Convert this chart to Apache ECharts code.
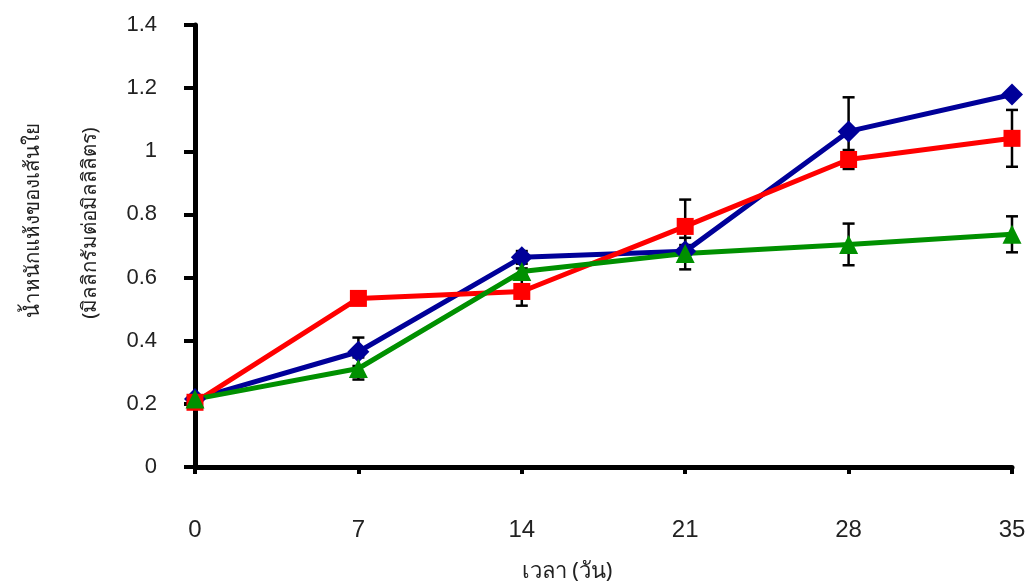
<!DOCTYPE html>
<html>
<head>
<meta charset="utf-8">
<script src="https://cdn.jsdelivr.net/npm/echarts@6/dist/echarts.min.js"></script>
<style>
html,body{margin:0;padding:0;background:#fff;}
#c{width:1032px;height:588px;}
</style>
</head>
<body>
<div id="c"></div>
<script>
var days = [0, 7, 14, 21, 28, 35];
var blueVals  = [0.215, 0.365, 0.664, 0.683, 1.063, 1.18];
var blueErr   = [0.01, 0.045, 0.02, 0.02, 0.108, 0.01];
var redVals   = [0.205, 0.534, 0.556, 0.762, 0.974, 1.041];
var redErr    = [0.01, 0.01, 0.045, 0.085, 0.03, 0.09];
var greenVals = [0.215, 0.312, 0.619, 0.676, 0.705, 0.737];
var greenErr  = [0.01, 0.035, 0.01, 0.05, 0.066, 0.057];
var yTitle1 = 'น้ำหนักแห้งของเส้นใย';
var yTitle2 = '(มิลลิกรัมต่อมิลลิลิตร)';
var xTitle = 'เวลา (วัน)';

var FONT = "'Liberation Sans', Arial, sans-serif";
var THAI = "'Noto Sans', 'DejaVu Sans', 'Liberation Sans', sans-serif";

function pts(v){ return days.map(function(d,i){ return [d, v[i]]; }); }
function errData(v,e){ return days.map(function(d,i){ return [d, v[i]-e[i], v[i]+e[i]]; }); }

function errSeries(v,e){
  return {
    type:'custom', z:1, silent:true,
    data: errData(v,e),
    renderItem: function(params, api){
      var x = api.value(0);
      var lo = api.coord([x, api.value(1)]);
      var hi = api.coord([x, api.value(2)]);
      var hw = 6;
      var st = {stroke:'#000', lineWidth:2.5};
      return {type:'group', children:[
        {type:'line', shape:{x1:lo[0],y1:lo[1],x2:hi[0],y2:hi[1]}, style:st},
        {type:'line', shape:{x1:lo[0]-hw,y1:lo[1],x2:lo[0]+hw,y2:lo[1]}, style:st},
        {type:'line', shape:{x1:hi[0]-hw,y1:hi[1],x2:hi[0]+hw,y2:hi[1]}, style:st}
      ]};
    },
    encode:{x:0, y:[1,2]}
  };
}

function lineSeries(v, color, symbol, size){
  return {
    type:'line', z:3, data: pts(v), symbol: symbol, symbolSize: size,
    showAllSymbol:true,
    lineStyle:{color:color, width:5},
    itemStyle:{color:color, borderWidth:0},
    emphasis:{disabled:true}
  };
}

var chart = echarts.init(document.getElementById('c'));
chart.setOption({
  animation:false,
  backgroundColor:'#fff',
  grid:{left:195, right:20, top:25, bottom:121, containLabel:false},
  xAxis:{
    type:'value', min:0, max:35, interval:7,
    axisLine:{show:true, lineStyle:{color:'#000', width:5}},
    axisTick:{show:true, length:7, lineStyle:{color:'#000', width:4}},
    axisLabel:{color:'#222', fontSize:24, fontFamily:FONT, margin:51},
    splitLine:{show:false}
  },
  yAxis:{
    type:'value', min:0, max:1.4, interval:0.2,
    axisLine:{show:true, lineStyle:{color:'#000', width:5}},
    axisTick:{show:true, length:11, lineStyle:{color:'#000', width:4}},
    axisLabel:{color:'#222', fontSize:22, fontFamily:FONT, margin:38, padding:[0,0,10,0],
      formatter:function(v){ return String(Math.round(v*10)/10); }},
    splitLine:{show:false}
  },
  graphic:[
    {type:'text', x:33, y:220, rotation:Math.PI/2,
      style:{text:yTitle1, fill:'#222', font:"20.5px "+THAI, textAlign:'center', textVerticalAlign:'middle'}},
    {type:'text', x:90, y:223, rotation:Math.PI/2,
      style:{text:yTitle2, fill:'#222', font:"20.5px "+THAI, textAlign:'center', textVerticalAlign:'middle'}},
    {type:'text', x:567, y:572,
      style:{text:xTitle, fill:'#222', font:"22px "+THAI, textAlign:'center', textVerticalAlign:'middle'}}
  ],
  series:[
    errSeries(blueVals, blueErr),
    errSeries(redVals, redErr),
    errSeries(greenVals, greenErr),
    lineSeries(blueVals, '#000099', 'diamond', 22),
    lineSeries(redVals, '#FF0000', 'rect', 17),
    lineSeries(greenVals, '#009000', 'triangle', 19)
  ]
});
</script>
</body>
</html>
